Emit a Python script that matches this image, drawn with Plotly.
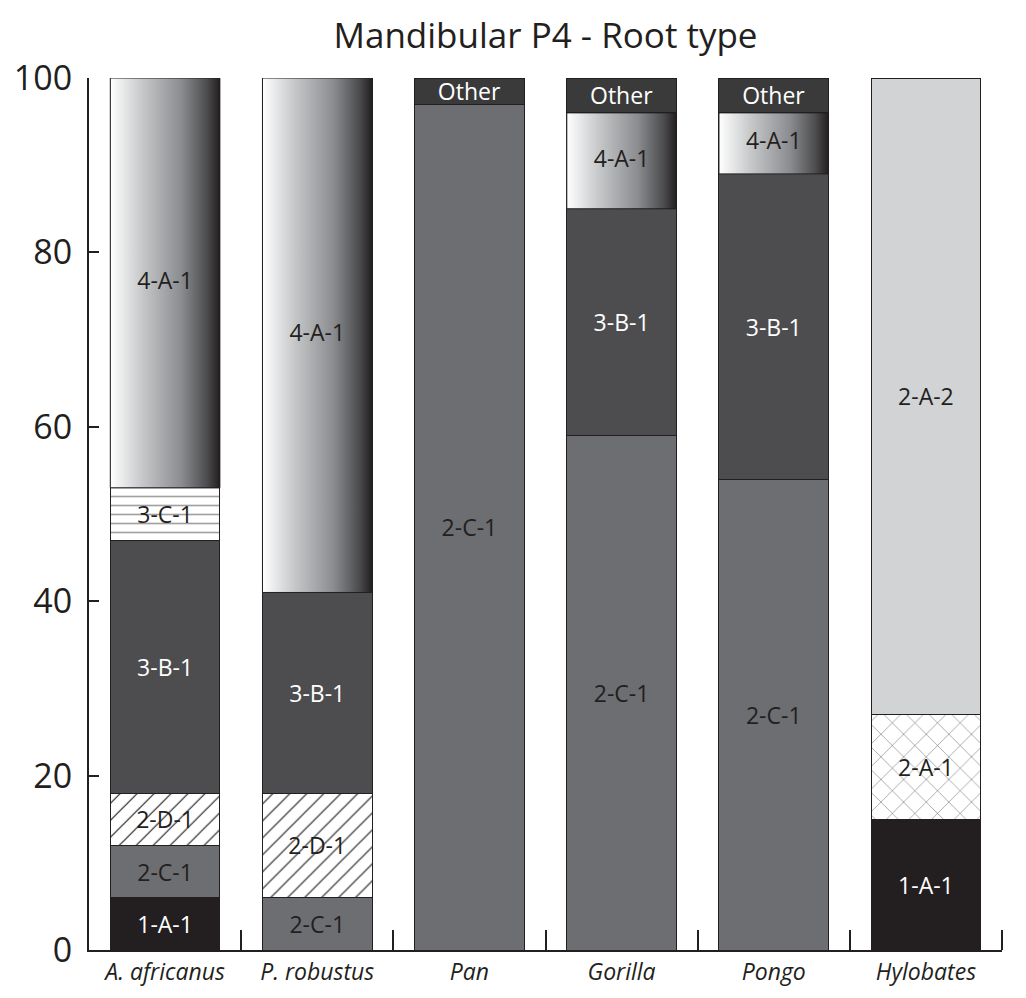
import plotly.graph_objects as go

species = ["A. africanus", "P. robustus", "Pan", "Gorilla", "Pongo", "Hylobates"]

# Root type percentages per species (stack order bottom -> top)
root_types = ["1-A-1", "2-A-1", "2-A-2", "2-C-1", "2-D-1", "3-B-1", "3-C-1", "4-A-1", "Other"]
v_1A1 = [6, None, None, None, None, 15]
v_2A1 = [None, None, None, None, None, 12]
v_2A2 = [None, None, None, None, None, 73]
v_2C1 = [6, 6, 97, 59, 54, None]
v_2D1 = [6, 12, None, None, None, None]
v_3B1 = [29, 23, None, 26, 35, None]
v_3C1 = [6, None, None, None, None, None]
v_4A1 = [47, 59, None, 11, 7, None]
v_Oth = [None, None, 3, 4, 4, None]

values = {"1-A-1": v_1A1, "2-A-1": v_2A1, "2-A-2": v_2A2, "2-C-1": v_2C1, "2-D-1": v_2D1,
          "3-B-1": v_3B1, "3-C-1": v_3C1, "4-A-1": v_4A1, "Other": v_Oth}

DARK = "#231f20"
styles = {
    "1-A-1": dict(color=DARK, text="white"),
    "2-A-1": dict(color="white", text=DARK, pattern=dict(shape="x", fillmode="replace", bgcolor="white", fgcolor="#555", size=16, solidity=0.06)),
    "2-A-2": dict(color="#d1d3d4", text=DARK),
    "2-C-1": dict(color="#6d6e71", text=DARK),
    "2-D-1": dict(color="white", text=DARK, pattern=dict(shape="/", fillmode="replace", bgcolor="white", fgcolor=DARK, size=12, solidity=0.1)),
    "3-B-1": dict(color="#4d4d4f", text="white"),
    "3-C-1": dict(color="white", text=DARK, pattern=dict(shape="-", fillmode="replace", bgcolor="white", fgcolor="#a0a0a0", size=9, solidity=0.18)),
    "4-A-1": dict(color="rgba(0,0,0,0)", text=DARK),
    "Other": dict(color="#3a3a3b", text="white"),
}

FONT = "Open Sans"
LBL = 23
W = 0.72
xs = list(range(len(species)))

fig = go.Figure()
for rt in root_types:
    st = styles[rt]
    marker = dict(color=st["color"], line=dict(color=DARK, width=1))
    if "pattern" in st:
        marker["pattern"] = st["pattern"]
    show_text = rt != "4-A-1"
    fig.add_trace(go.Bar(
        x=xs, y=values[rt], name=rt, width=W, marker=marker,
        text=[rt if (v is not None and show_text) else "" for v in values[rt]],
        textposition="inside", insidetextanchor="middle", textangle=0,
        textfont=dict(family=FONT, size=LBL, color=st["text"]),
        showlegend=False, hoverinfo="skip",
    ))

# gradient overlays for 4-A-1
grad_scale = [[0, "#ffffff"], [0.3, "#c4c6c8"], [0.65, "#8a8c8f"], [0.88, "#4d4d4f"], [1, DARK]]
idx4 = root_types.index("4-A-1")
for i, v in enumerate(v_4A1):
    if v is None:
        continue
    base = sum((values[r][i] or 0) for r in root_types[:idx4])
    x0, x1 = i - W / 2, i + W / 2
    fig.add_trace(go.Scatter(
        x=[x0, x1, x1, x0, x0], y=[base, base, base + v, base + v, base],
        mode="lines", fill="toself", line=dict(color=DARK, width=1),
        fillgradient=dict(type="horizontal", colorscale=grad_scale),
        showlegend=False, hoverinfo="skip",
    ))
    fig.add_trace(go.Scatter(
        x=[i], y=[base + v / 2], mode="text", text=["4-A-1"],
        textfont=dict(family=FONT, size=LBL, color=DARK),
        showlegend=False, hoverinfo="skip",
    ))

fig.update_layout(
    width=1018, height=990, autosize=False,
    margin=dict(l=81, r=24, t=70, b=48, autoexpand=False),
    paper_bgcolor="white", plot_bgcolor="white",
    barmode="stack",
    uniformtext=dict(minsize=LBL, mode="show"),
    title=dict(text="Mandibular P4 - Root type", x=0.5, xref="paper", y=1 - 28 / 990,
               yref="container", yanchor="middle", xanchor="center",
               font=dict(family=FONT, size=35, color=DARK)),
    font=dict(family=FONT, color=DARK),
)
fig.update_xaxes(
    range=[-0.5, 5.5], tickvals=xs, ticktext=[f"<i>{s}</i>" for s in species],
    ticks="", showline=True, linecolor=DARK, linewidth=2, showgrid=False, zeroline=False,
    tickfont=dict(family=FONT, size=23, color=DARK), automargin=False,
    minor=dict(tickvals=[i + 0.5 for i in xs], ticks="inside", ticklen=20, tickwidth=2, tickcolor=DARK),
)
fig.update_yaxes(
    range=[0, 100], tickvals=[0, 20, 40, 60, 80, 100], ticks="inside", ticklen=10, tickwidth=2,
    tickcolor=DARK, showline=True, linecolor=DARK, linewidth=2, showgrid=False, zeroline=False,
    tickfont=dict(family=FONT, size=34, color=DARK), ticklabelstandoff=8, automargin=False,
)

fig.write_html("out.html")
